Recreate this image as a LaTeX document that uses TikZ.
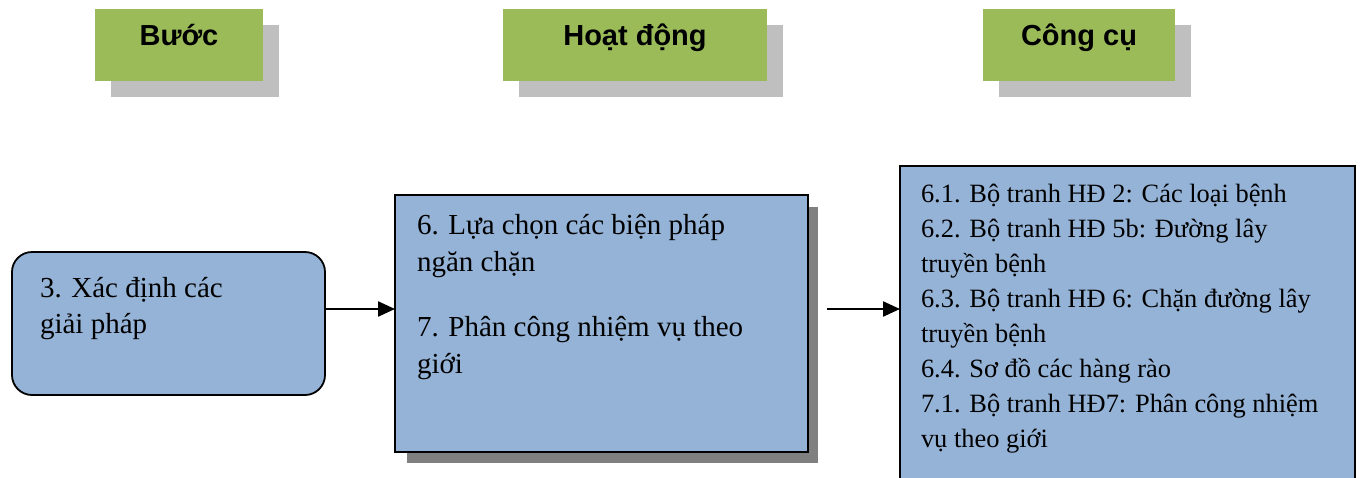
\documentclass[tikz,border=0pt]{standalone}
\usepackage{fontspec}
\setmainfont{Liberation Serif}
\newfontfamily\hdfont{Liberation Sans}
\usetikzlibrary{arrows.meta}
\definecolor{boxblue}{HTML}{95B3D7}
\definecolor{hdgreen}{HTML}{9BBB59}
\definecolor{hdshadow}{HTML}{BFBFBF}
\definecolor{boxshadow}{HTML}{808080}
\begin{document}
\begin{tikzpicture}[x=1pt,y=-1pt,
  hdbox/.style={fill=hdgreen, draw=none, anchor=north west, inner sep=0pt, outer sep=0pt},
  hdtext/.style={anchor=base, inner sep=0pt, font=\hdfont\bfseries\fontsize{29}{34}\selectfont},
  bluebox/.style={fill=boxblue, draw=black, line width=1.8pt, anchor=north west, inner sep=0pt, outer sep=0pt},
  bodytext/.style={anchor=base west, inner sep=0pt, outer sep=0pt},
  arr/.style={line width=2.4pt, -{Triangle[length=17pt,width=15pt]}}
]
\clip (0,0) rectangle (1361,477);
\useasboundingbox (0,0) rectangle (1361,477);

% header boxes
\fill[hdshadow] (111,25) rectangle (279,97);
\node[hdbox, minimum width=168pt, minimum height=72pt] (h1) at (95,9) {};
\node[hdtext] (t1) at (179,45) {Bước};

\fill[hdshadow] (519,25) rectangle (783,97);
\node[hdbox, minimum width=264pt, minimum height=72pt] (h2) at (503,9) {};
\node[hdtext] (t2) at (635,45) {Hoạt động};

\fill[hdshadow] (999,25) rectangle (1191,97);
\node[hdbox, minimum width=192pt, minimum height=72pt] (h3) at (983,9) {};
\node[hdtext] (t3) at (1079,45) {Công cụ};

% left box
\node[bluebox, rounded corners=20pt, minimum width=313pt, minimum height=143pt] (a) at (12,252) {};
\node[bodytext] (at) at (40,297) {\parbox[t]{280pt}{\raggedright\fontsize{29}{36}\selectfont 3. Xác định các\\giải pháp}};

% middle box
\fill[boxshadow] (407,207) rectangle (818,463);
\node[bluebox, minimum width=413pt, minimum height=257pt] (b) at (395,195) {};
\node[bodytext] (bt) at (417,234) {\parbox[t]{380pt}{\raggedright\fontsize{29}{37}\selectfont 6. Lựa chọn các biện pháp\\ngăn chặn\\[28pt]7. Phân công nhiệm vụ theo\\giới}};

% right box
\node[bluebox, minimum width=455pt, minimum height=330pt] (c) at (900,166) {};
\node[bodytext] (ct) at (921,202) {\parbox[t]{420pt}{\raggedright\fontsize{26.4}{35}\selectfont
6.1. Bộ tranh HĐ 2: Các loại bệnh\\
6.2. Bộ tranh HĐ 5b: Đường lây\\
truyền bệnh\\
6.3. Bộ tranh HĐ 6: Chặn đường lây\\
truyền bệnh\\
6.4. Sơ đồ các hàng rào\\
7.1. Bộ tranh HĐ7: Phân công nhiệm\\
vụ theo giới}};

% connectors
\coordinate (y1) at (0,309);
\coordinate (s2) at (827,309);
\draw[arr] (a.east |- y1) -- (b.west |- y1);
\draw[arr] (s2) -- (c.west |- s2);
\end{tikzpicture}
\end{document}
